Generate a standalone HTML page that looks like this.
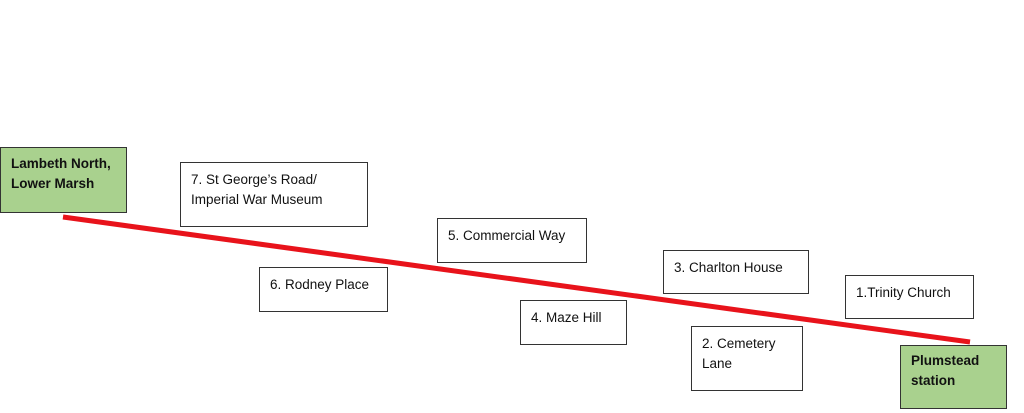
<!DOCTYPE html>
<html><head><meta charset="utf-8"><style>
body{margin:0;width:1024px;height:413px;background:#fff;position:relative;overflow:hidden;font-family:"Liberation Sans",sans-serif;font-size:13.5px;color:#111}
.b{position:absolute;border:1px solid #333;background:#fff;box-sizing:border-box;padding:7px 10px;line-height:20px}
.g{background:#a9d18e;font-weight:bold;padding:6px 10px}
</style></head><body>
<svg width="1024" height="413" style="position:absolute;left:0;top:0"><line x1="63" y1="217" x2="970" y2="342" stroke="#e8131b" stroke-width="5"/></svg>
<div class="b g" style="left:0;top:147px;width:127px;height:66px">Lambeth North,<br>Lower Marsh</div>
<div class="b" style="left:180px;top:162px;width:188px;height:65px">7. St George’s Road/<br>Imperial War Museum</div>
<div class="b" style="left:259px;top:267px;width:129px;height:45px">6. Rodney Place</div>
<div class="b" style="left:437px;top:218px;width:150px;height:45px">5. Commercial Way</div>
<div class="b" style="left:520px;top:300px;width:107px;height:45px">4. Maze Hill</div>
<div class="b" style="left:663px;top:250px;width:146px;height:44px">3. Charlton House</div>
<div class="b" style="left:691px;top:326px;width:112px;height:65px">2. Cemetery<br>Lane</div>
<div class="b" style="left:845px;top:275px;width:129px;height:44px">1.Trinity Church</div>
<div class="b g" style="left:900px;top:345px;width:107px;height:64px;padding-top:5px">Plumstead<br>station</div>
</body></html>
